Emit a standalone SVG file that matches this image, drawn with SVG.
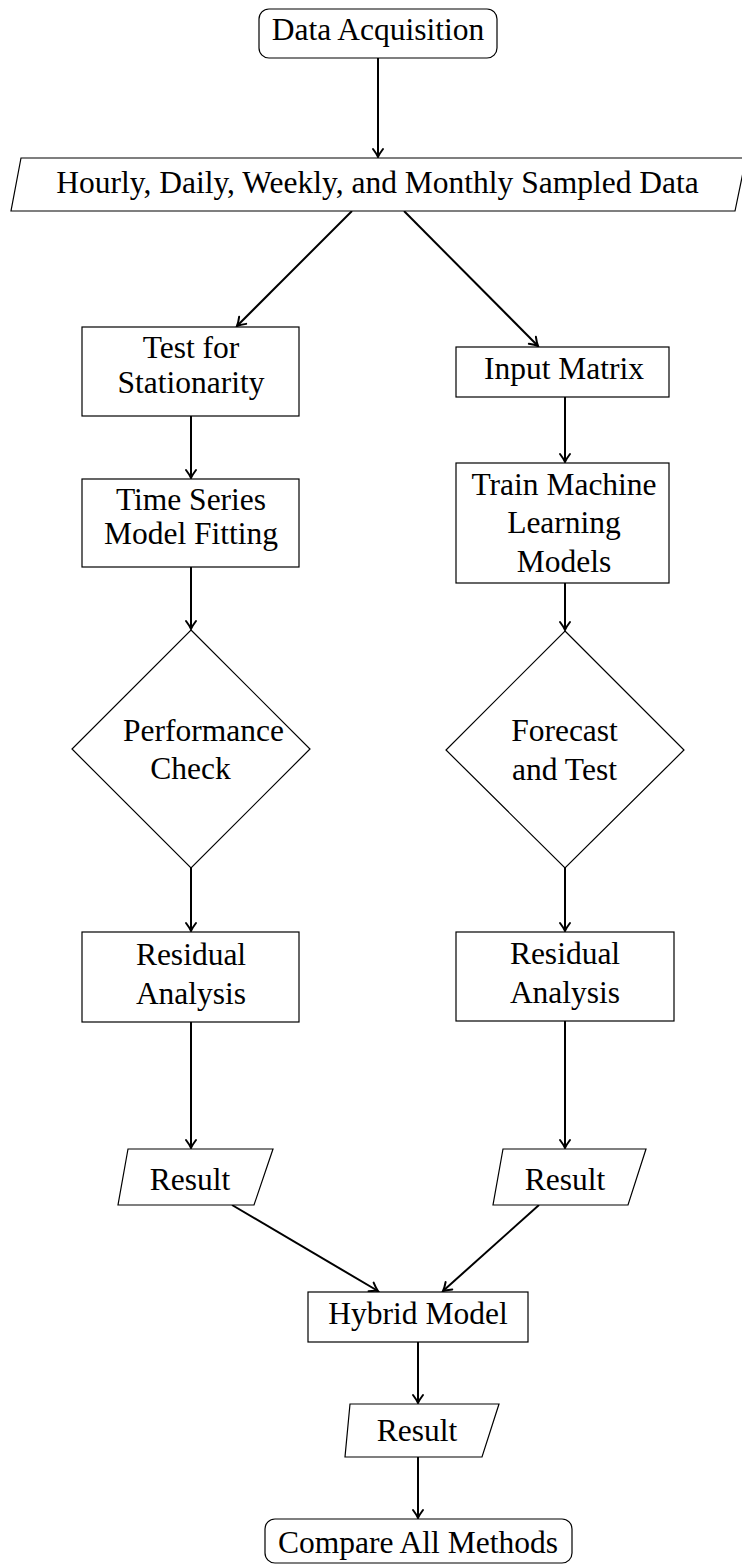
<svg xmlns="http://www.w3.org/2000/svg" width="742" height="1565" viewBox="0 0 742 1565">
<style>
  .shape { fill: #ffffff; stroke: #000000; stroke-width: 1.2; }
  .lbl { font-family: "Liberation Serif", "Times New Roman", serif; font-size: 31.5px; fill: #000000; text-anchor: middle; }
  .edge { fill: none; stroke: #000000; stroke-width: 2; marker-end: url(#arr); }
</style>
<defs>
  <marker id="arr" markerUnits="userSpaceOnUse" markerWidth="16" markerHeight="16" refX="0" refY="0" viewBox="-10 -8 12 16" orient="auto" overflow="visible">
    <path d="M -8 -5 Q -3 -1.2 0 0 Q -3 1.2 -8 5" fill="none" stroke="#000000" stroke-width="2" stroke-linecap="round"/>
  </marker>
</defs>
<rect x="0" y="0" width="742" height="1565" fill="#ffffff"/>

<g id="connectors">
  <line class="edge" x1="378" y1="58" x2="378" y2="157"/>
  <line class="edge" x1="352" y1="211" x2="237" y2="326"/>
  <line class="edge" x1="404" y1="211" x2="538" y2="346"/>
  <line class="edge" x1="191" y1="416" x2="191" y2="478"/>
  <line class="edge" x1="565" y1="397" x2="565" y2="462"/>
  <line class="edge" x1="191" y1="567" x2="191" y2="629"/>
  <line class="edge" x1="565" y1="583" x2="565" y2="630"/>
  <line class="edge" x1="191" y1="868" x2="191" y2="931"/>
  <line class="edge" x1="565" y1="868" x2="565" y2="931"/>
  <line class="edge" x1="191" y1="1022" x2="191" y2="1148"/>
  <line class="edge" x1="565" y1="1021" x2="565" y2="1148"/>
  <line class="edge" x1="232" y1="1205" x2="378" y2="1291"/>
  <line class="edge" x1="539" y1="1205" x2="443" y2="1291"/>
  <line class="edge" x1="418" y1="1342" x2="418" y2="1403"/>
  <line class="edge" x1="418" y1="1457" x2="418" y2="1518"/>
</g>

<g id="data-acquisition">
  <rect class="shape" x="259" y="9" width="238" height="49" rx="10" ry="10"/>
  <text class="lbl" x="378" y="40">Data Acquisition</text>
</g>

<g id="sampled-data">
  <polygon class="shape" points="21,158 746,158 735,211 11,211"/>
  <text class="lbl" x="377.5" y="192.5">Hourly, Daily, Weekly, and Monthly Sampled Data</text>
</g>

<g id="test-stationarity">
  <rect class="shape" x="82" y="327" width="217" height="89"/>
  <text class="lbl" x="191" y="358">Test for</text>
  <text class="lbl" x="191" y="392.5">Stationarity</text>
</g>

<g id="input-matrix">
  <rect class="shape" x="456" y="347" width="213" height="50"/>
  <text class="lbl" x="564" y="378.5">Input Matrix</text>
</g>

<g id="ts-model-fitting">
  <rect class="shape" x="82" y="479" width="217" height="88"/>
  <text class="lbl" x="191" y="509.5">Time Series</text>
  <text class="lbl" x="191" y="544">Model Fitting</text>
</g>

<g id="train-ml">
  <rect class="shape" x="456" y="463" width="213" height="120"/>
  <text class="lbl" x="564" y="494.5">Train Machine</text>
  <text class="lbl" x="564" y="533">Learning</text>
  <text class="lbl" x="564" y="571.5">Models</text>
</g>

<g id="performance-check">
  <polygon class="shape" points="191,630 310,749 191,868 72,749"/>
  <text class="lbl" x="123" y="741" style="text-anchor:start">Performance</text>
  <text class="lbl" x="190.5" y="779">Check</text>
</g>

<g id="forecast-test">
  <polygon class="shape" points="565,631 684,750 565,868 446,750"/>
  <text class="lbl" x="564.5" y="740.5">Forecast</text>
  <text class="lbl" x="564.5" y="779.5">and Test</text>
</g>

<g id="residual-left">
  <rect class="shape" x="82" y="932" width="217" height="90"/>
  <text class="lbl" x="191" y="965">Residual</text>
  <text class="lbl" x="191" y="1003.5">Analysis</text>
</g>

<g id="residual-right">
  <rect class="shape" x="456" y="932" width="218" height="89"/>
  <text class="lbl" x="565" y="964">Residual</text>
  <text class="lbl" x="565" y="1002.5">Analysis</text>
</g>

<g id="result-left">
  <polygon class="shape" points="128,1149 273,1149 254,1205 118,1205"/>
  <text class="lbl" x="190" y="1189.5">Result</text>
</g>

<g id="result-right">
  <polygon class="shape" points="503,1149 646,1149 628,1205 493,1205"/>
  <text class="lbl" x="565" y="1189.5">Result</text>
</g>

<g id="hybrid-model">
  <rect class="shape" x="308" y="1292" width="220" height="50"/>
  <text class="lbl" x="418" y="1324">Hybrid Model</text>
</g>

<g id="result-final">
  <polygon class="shape" points="350,1404 499,1404 482,1457 345,1457"/>
  <text class="lbl" x="417" y="1440.5">Result</text>
</g>

<g id="compare-methods">
  <rect class="shape" x="265" y="1519" width="307" height="44" rx="10" ry="10"/>
  <text class="lbl" x="418" y="1552.5">Compare All Methods</text>
</g>
</svg>
